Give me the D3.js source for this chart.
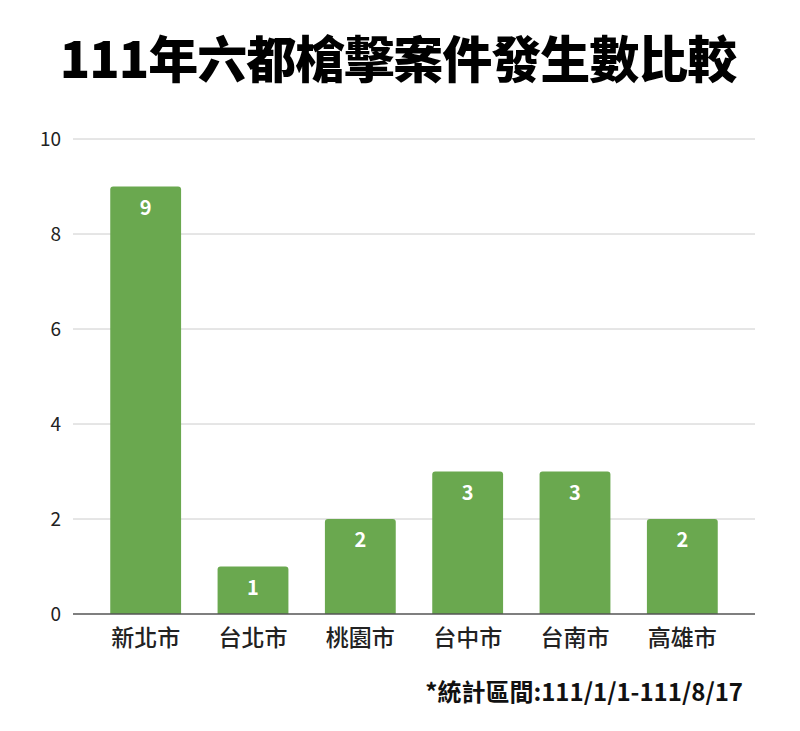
<!DOCTYPE html>
<html><head><meta charset="utf-8">
<script src="https://cdn.jsdelivr.net/npm/d3@7"></script>
<style>body{margin:0;background:#fff}svg{display:block}</style>
</head><body>
<script>
const categories = ["新北市","台北市","桃園市","台中市","台南市","高雄市"];
const values = [9,1,2,3,3,2];
const yTicks = [0,2,4,6,8,10];
const title = "111年六都槍擊案件發生數比較";
const footnote = "*統計區間:111/1/1-111/8/17";

const W=800,H=731;
const svg=d3.select("body").append("svg").attr("width",W).attr("height",H);
const font='"Noto Sans CJK TC","Noto Sans",sans-serif';
const y=d3.scaleLinear().domain([0,10]).range([614,139]);
const x=d3.scaleBand().domain(categories).range([92,736]).paddingInner(0.34).paddingOuter(0.17);
const gx0=73,gx1=755;

svg.append("text").attr("x",398).attr("y",78).attr("text-anchor","middle")
 .attr("font-family",font).attr("font-weight",900).attr("font-size",50).attr("fill","#000")
 .attr("letter-spacing",-1).text(title);

const g=svg.append("g");
g.selectAll("line.grid").data(yTicks.filter(d=>d>0)).join("line").attr("class","grid")
 .attr("x1",gx0).attr("x2",gx1).attr("y1",d=>y(d)).attr("y2",d=>y(d))
 .attr("stroke","#cccccc").attr("stroke-width",1);
g.selectAll("text.tick").data(yTicks).join("text").attr("class","tick")
 .attr("x",61).attr("y",d=>y(d)).attr("dy","0.35em").attr("text-anchor","end")
 .attr("font-family",font).attr("font-size",19).attr("fill","#222").text(d=>d);

const r=3;
g.selectAll("path.bar").data(values).join("path").attr("class","bar")
 .attr("fill","#6aa84f")
 .attr("d",(d,i)=>{const x0=x(categories[i]),w=x.bandwidth(),y0=y(d),yb=y(0);
   return `M${x0},${yb}V${y0+r}Q${x0},${y0} ${x0+r},${y0}H${x0+w-r}Q${x0+w},${y0} ${x0+w},${y0+r}V${yb}Z`;});
g.selectAll("text.val").data(values).join("text").attr("class","val")
 .attr("x",(d,i)=>x(categories[i])+x.bandwidth()/2).attr("y",d=>y(d)+28)
 .attr("text-anchor","middle").attr("font-family",font).attr("font-weight",700)
 .attr("font-size",20).attr("fill","#fff").text(d=>d);

g.append("line").attr("x1",gx0).attr("x2",gx1).attr("y1",y(0)).attr("y2",y(0))
 .attr("stroke","#555").attr("stroke-width",1.5);

g.selectAll("text.cat").data(categories).join("text").attr("class","cat")
 .attr("x",d=>x(d)+x.bandwidth()/2).attr("y",646).attr("text-anchor","middle")
 .attr("font-family",font).attr("font-weight",500).attr("font-size",23).attr("fill","#222").text(d=>d);

svg.append("text").attr("x",743).attr("y",701).attr("text-anchor","end")
 .attr("font-family",font).attr("font-weight",700).attr("font-size",24).attr("fill","#111").text(footnote);
</script>
</body></html>
